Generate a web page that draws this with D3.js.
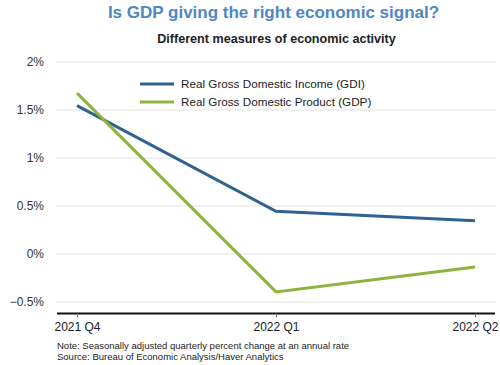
<!DOCTYPE html>
<html>
<head>
<meta charset="utf-8">
<script src="https://cdn.jsdelivr.net/npm/d3@7"></script>
<style>
  body { margin: 0; background: #fff; }
  text { font-family: "Liberation Sans", Arial, sans-serif; }
</style>
</head>
<body>
<div id="chart"></div>
<script>
// quarters on the x axis
const quarters = ["2021 Q4", "2022 Q1", "2022 Q2"];
// seasonally adjusted quarterly % change, annual rate
const gdi = [1.54, 0.44, 0.34];
const gdp = [1.67, -0.40, -0.14];
const yTicks = [-0.5, 0, 0.5, 1, 1.5, 2];
const seriesNames = ["Real Gross Domestic Income (GDI)", "Real Gross Domestic Product (GDP)"];

const width = 500, height = 365;
const svg = d3.select("#chart").append("svg")
    .attr("width", width).attr("height", height);

const x = d3.scalePoint().domain(quarters).range([77, 475]);
const y = d3.scaleLinear().domain([-0.5, 2]).range([301.5, 61.5]);

// title
svg.append("text")
    .attr("x", 273.5).attr("y", 18)
    .attr("text-anchor", "middle")
    .style("font-size", "17px").style("font-weight", "bold")
    .attr("fill", "#4f86c4")
    .text("Is GDP giving the right economic signal?");

svg.append("text")
    .attr("x", 276.5).attr("y", 42.5)
    .attr("text-anchor", "middle")
    .style("font-size", "12.6px").style("font-weight", "bold")
    .attr("fill", "#222")
    .text("Different measures of economic activity");

// gridlines + y labels
const yAxis = svg.append("g")
    .attr("transform", "translate(57,0)")
    .call(d3.axisLeft(y).tickValues(yTicks).tickSize(-438)
        .tickFormat(d => d3.format("")(d) + "%"));
yAxis.select(".domain").remove();
yAxis.selectAll(".tick line").attr("stroke", "#e3e3e3");
yAxis.selectAll(".tick text")
    .attr("x", -13)
    .style("font-size", "12px").attr("fill", "#333");

// x axis
const xAxis = svg.append("g")
    .attr("transform", "translate(0,313.5)")
    .call(d3.axisBottom(x).tickSize(4).tickSizeOuter(0));
xAxis.select(".domain").attr("d", "M57,0H495").attr("stroke", "#111").attr("stroke-width", 2);
xAxis.selectAll(".tick line").attr("stroke", "#777");
xAxis.selectAll(".tick text")
    .attr("y", 8.5)
    .style("font-size", "12px").attr("fill", "#222");

// lines
const line = d3.line()
    .x((d, i) => x(quarters[i]))
    .y(d => y(d));

svg.append("path").datum(gdi)
    .attr("d", line).attr("fill", "none")
    .attr("stroke", "#2f6292").attr("stroke-width", 3);
svg.append("path").datum(gdp)
    .attr("d", line).attr("fill", "none")
    .attr("stroke", "#8db43f").attr("stroke-width", 3);

// legend
const colors = ["#2f6292", "#8db43f"];
const legend = svg.append("g");
seriesNames.forEach((name, i) => {
    const ly = 84 + i * 18;
    legend.append("line")
        .attr("x1", 140).attr("x2", 174)
        .attr("y1", ly).attr("y2", ly)
        .attr("stroke", colors[i]).attr("stroke-width", 3);
    legend.append("text")
        .attr("x", 181).attr("y", ly + 4)
        .style("font-size", "11.7px").attr("fill", "#222")
        .text(name);
});

// notes
svg.append("text")
    .attr("x", 57).attr("y", 348.5)
    .style("font-size", "9.5px").attr("fill", "#222")
    .text("Note: Seasonally adjusted quarterly percent change at an annual rate");
svg.append("text")
    .attr("x", 57).attr("y", 360)
    .style("font-size", "9.5px").attr("fill", "#222")
    .text("Source: Bureau of Economic Analysis/Haver Analytics");
</script>
</body>
</html>
